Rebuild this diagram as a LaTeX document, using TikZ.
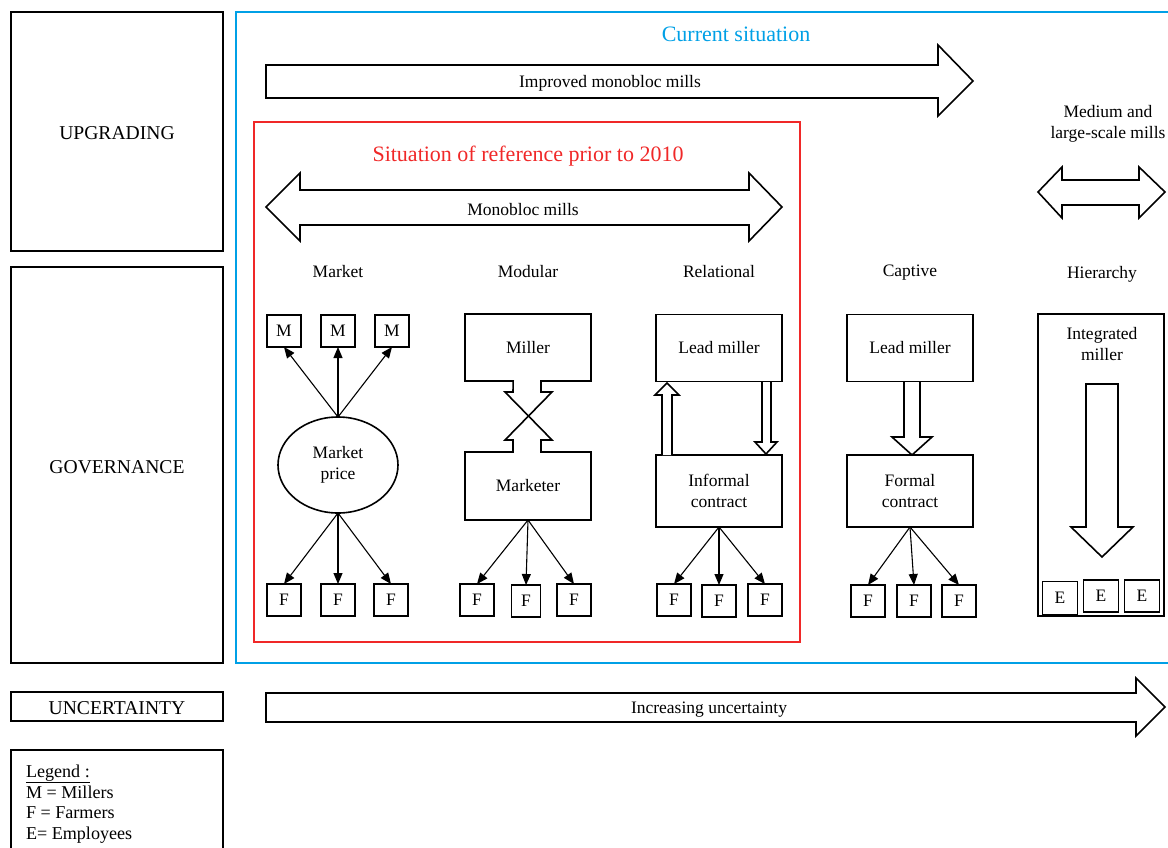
\documentclass[tikz,border=0pt]{standalone}
\usepackage{fontspec}
\setmainfont{Liberation Serif}
\usetikzlibrary{shapes.geometric,arrows.meta}
\definecolor{cblue}{RGB}{0,160,230}
\definecolor{cred}{RGB}{240,40,40}
\begin{document}
\begin{tikzpicture}[x=1pt,y=-1pt,
 every node/.style={font=\fontsize{17.5}{21}\selectfont, inner sep=0pt, outer sep=0pt},
 frame/.style={draw, line width=1.8pt, anchor=north west},
 leftlab/.style={font=\fontsize{19.6}{23}\selectfont},
 leglab/.style={font=\fontsize{18.1}{21}\selectfont, anchor=base west},
 title/.style={font=\fontsize{22}{26}\selectfont},
 sbox/.style={draw, line width=1.6pt, minimum width=34pt, minimum height=32pt},
 bigbox/.style={draw, line width=1.6pt, minimum width=126pt, align=center},
 conn/.style={-{Triangle[length=11pt,width=9pt]}, line width=1.1pt},
 blk/.style={draw, line width=1.6pt, fill=white, line join=miter}
]
\useasboundingbox (0,0) rectangle (1168,847);
\clip (0,0) rectangle (1168,847);

% left column
\node[frame, minimum width=212pt, minimum height=239pt] (upbox) at (11,12) {};
\node[leftlab] (uplab) at (117,133) {UPGRADING};
\node[frame, minimum width=212pt, minimum height=396pt] (govbox) at (11,267) {};
\node[leftlab] (govlab) at (117,467) {GOVERNANCE};
\node[frame, minimum width=212pt, minimum height=29pt] (uncbox) at (11,692) {};
\node[leftlab] (unclab) at (117,708) {UNCERTAINTY};
\node[frame, minimum width=212pt, minimum height=120pt] (legbox) at (11,750) {};
\node[leglab] (leg1) at (26,777) {\underline{Legend :}};
\node[leglab] (leg2) at (26,798) {M = Millers};
\node[leglab] (leg3) at (26,818.5) {F = Farmers};
\node[leglab] (leg4) at (26,839) {E= Employees};

% current situation frame
\draw[cblue, line width=2.5pt] (236,12) rectangle (1185,663);
\node[title, text=cblue] (cur) at (736,34) {Current situation};
\draw[blk] (266,65) -- (938,65) -- (938,45) -- (973,81) -- (938,116) -- (938,98) -- (266,98) -- cycle;
\node (imp) at (610,83) {Improved monobloc mills};

% reference frame
\draw[cred, line width=1.4pt] (254,122) rectangle (800,642);
\node[title, text=cred] (ref) at (528,156) {Situation of reference prior to 2010};
\draw[blk] (266,207) -- (300,173) -- (300,190) -- (749,190) -- (749,173) -- (782,207) -- (749,241) -- (749,225) -- (300,225) -- (300,241) -- cycle;
\node (mono) at (523,210) {Monobloc mills};

% medium and large
\node[align=center] (med) at (1108,124) {Medium and\\large-scale mills};
\draw[blk] (1038,192) -- (1062,167) -- (1062,180) -- (1139,180) -- (1139,167) -- (1165,192) -- (1139,218) -- (1139,205) -- (1062,205) -- (1062,218) -- cycle;

% column labels
\node (lmarket) at (338,272) {Market};
\node (lmod) at (528,272) {Modular};
\node (lrel) at (719,272) {Relational};
\node (lcap) at (910,273) {Captive};
\node (lhier) at (1102,274) {Hierarchy};

% Market
\node[draw, ellipse, line width=1.6pt, minimum width=120pt, minimum height=96pt, align=center] (mp) at (338,465) {Market\\price};
\node[sbox] (m1) at (284,331) {M};
\node[sbox] (m2) at (338,331) {M};
\node[sbox] (m3) at (392,331) {M};
\node[sbox] (f1) at (284,600) {F};
\node[sbox] (f2) at (338,600) {F};
\node[sbox] (f3) at (391,600) {F};
\foreach \b in {m1,m2,m3} \draw[conn] (mp.north) -- (\b.south);
\foreach \b in {f1,f2,f3} \draw[conn] (mp.south) -- (\b.north);

% Modular
\node[bigbox, minimum height=67pt] (miller) at (528,347.5) {Miller};
\node[bigbox, minimum height=68pt] (marketer) at (528,486) {Marketer};
\fill[white] (514,378) rectangle (540,384);
\fill[white] (514,449) rectangle (540,455);
\draw[line width=1.6pt, line join=miter] (513.2,380.7) -- (513,392) -- (505,392) -- (552,440) -- (541,440) -- (541,452.8);
\draw[line width=1.6pt, line join=miter] (541,380.7) -- (541,392) -- (552,392) -- (505,440) -- (513,440) -- (513,452.8);
\node[sbox] (g1) at (477,600) {F};
\node[sbox, minimum width=29pt] (g2) at (526,601) {F};
\node[sbox] (g3) at (574,600) {F};
\foreach \b in {g1,g2,g3} \draw[conn] (marketer.south) -- (\b.north);

% Relational
\node[bigbox, minimum height=67pt] (lead1) at (719,348) {Lead miller};
\node[bigbox, minimum height=72pt] (inf) at (719,491) {Informal\\contract};
\draw[blk] (662,455) -- (662,395) -- (655,395) -- (667,383) -- (679,395) -- (672,395) -- (672,455);
\draw[blk] (762,382) -- (762,442) -- (755,442) -- (766,454) -- (777,442) -- (771,442) -- (771,382);
\node[sbox] (h1) at (674,600) {F};
\node[sbox] (h2) at (719,601) {F};
\node[sbox] (h3) at (765,600) {F};
\foreach \b in {h1,h2,h3} \draw[conn] (inf.south) -- (\b.north);

% Captive
\node[bigbox, minimum height=67pt] (lead2) at (910,348) {Lead miller};
\node[bigbox, minimum height=72pt] (form) at (910,491) {Formal\\contract};
\draw[blk] (904,382) -- (904,437) -- (892,437) -- (912,455) -- (932,437) -- (920,437) -- (920,382);
\node[sbox] (k1) at (868,601) {F};
\node[sbox] (k2) at (914,601) {F};
\node[sbox] (k3) at (959,601) {F};
\foreach \b in {k1,k2,k3} \draw[conn] (form.south) -- (\b.north);

% Hierarchy
\node[draw, line width=1.6pt, anchor=north west, minimum width=126pt, minimum height=302pt] (hbox) at (1038,314) {};
\node[align=center] (integ) at (1102,344.5) {Integrated\\miller};
\draw[blk] (1086,384) -- (1118,384) -- (1118,527) -- (1133,527) -- (1102,557) -- (1071,527) -- (1086,527) -- cycle;
\node[sbox, minimum width=35pt, minimum height=33pt] (e1) at (1060,598) {E};
\node[sbox, minimum width=35pt] (e2) at (1101,596) {E};
\node[sbox, minimum width=35pt] (e3) at (1142,596) {E};

% uncertainty arrow
\draw[blk] (266,693) -- (1136,693) -- (1136,678) -- (1165,707) -- (1136,736) -- (1136,722) -- (266,722) -- cycle;
\node (incr) at (709,710) {Increasing uncertainty};
\end{tikzpicture}
\end{document}
